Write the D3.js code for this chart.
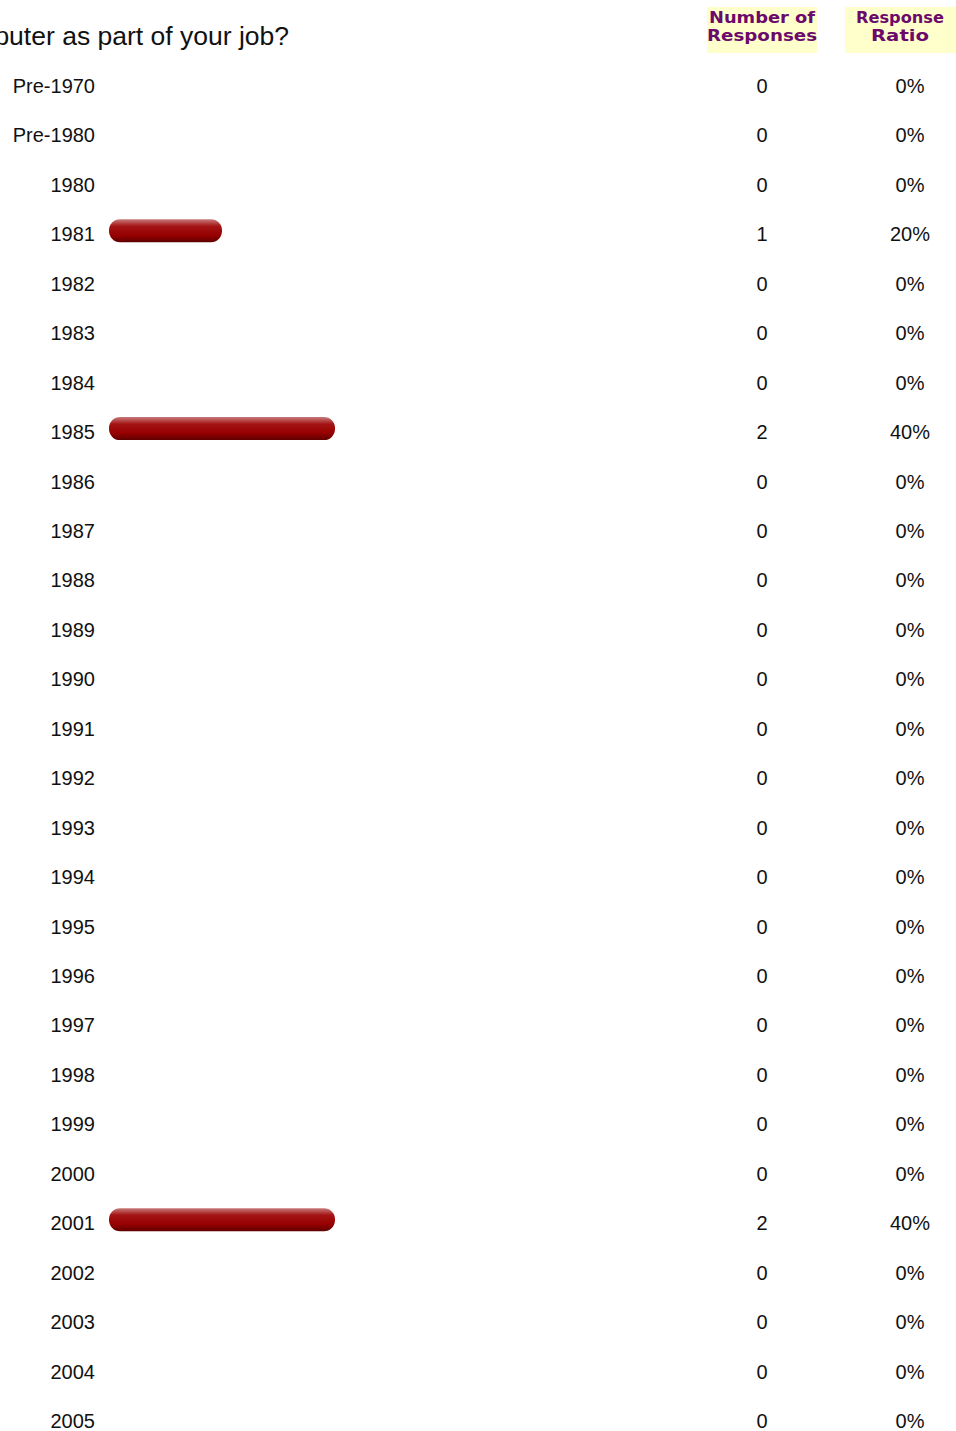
<!DOCTYPE html>
<html>
<head>
<meta charset="utf-8">
<script src="https://cdn.jsdelivr.net/npm/d3@7"></script>
<style>
  body { margin: 0; background: #fff; }
  svg { display: block; }
</style>
</head>
<body>
<div id="chart"></div>
<script>
const categories = ["Pre-1970", "Pre-1980", "1980", "1981", "1982", "1983", "1984", "1985",
  "1986", "1987", "1988", "1989", "1990", "1991", "1992", "1993", "1994", "1995", "1996",
  "1997", "1998", "1999", "2000", "2001", "2002", "2003", "2004", "2005"];
const counts = [0, 0, 0, 1, 0, 0, 0, 2, 0, 0, 0, 0, 0, 0, 0, 0, 0, 0, 0, 0, 0, 0, 0, 2, 0, 0, 0, 0];
const ratios = [0, 0, 0, 0.2, 0, 0, 0, 0.4, 0, 0, 0, 0, 0, 0, 0, 0, 0, 0, 0, 0, 0, 0, 0, 0.4, 0, 0, 0, 0];
const titleText = "computer as part of your job?";
const headers = [["Number of", "Responses"], ["Response", "Ratio"]];

function drawChart() {
  const width = 956, height = 1431;

  const svg = d3.select("#chart")
    .append("svg")
    .attr("width", width)
    .attr("height", height);

  const defs = svg.append("defs");
  const grad = defs.append("linearGradient")
    .attr("id", "barGrad")
    .attr("x1", 0).attr("y1", 0).attr("x2", 0).attr("y2", 1);
  grad.append("stop").attr("offset", "0%").attr("stop-color", "#c77a7a");
  grad.append("stop").attr("offset", "30%").attr("stop-color", "#a41414");
  grad.append("stop").attr("offset", "70%").attr("stop-color", "#960000");
  grad.append("stop").attr("offset", "100%").attr("stop-color", "#5e0000");

  const y = d3.scalePoint()
    .domain(categories)
    .range([86, 1421]);

  const x = d3.scaleLinear()
    .domain([0, 1])
    .range([109, 674]);

  // question title, cut off on the left like the source page
  svg.append("text")
    .attr("x", 289)
    .attr("y", 45)
    .attr("text-anchor", "end")
    .style("font-family", "'Liberation Sans', Arial, sans-serif")
    .style("font-size", "26.5px")
    .attr("fill", "#111")
    .text(titleText);

  // column headers
  const headX = [762, 900];
  const boxes = [[707, 110], [845, 115]];
  headers.forEach((lines, i) => {
    svg.append("rect")
      .attr("x", boxes[i][0])
      .attr("y", 7)
      .attr("width", boxes[i][1])
      .attr("height", 46)
      .attr("fill", "#ffffcc");
    lines.forEach((t, j) => {
      svg.append("text")
        .attr("x", headX[i])
        .attr("y", 23 + j * 18)
        .attr("text-anchor", "middle")
        .style("font-family", "'DejaVu Sans', sans-serif")
        .style("font-weight", "bold")
        .style("font-size", "16px")
        .attr("fill", "#6b0a6b")
        .attr("textLength", i === 0 ? (j === 0 ? 106 : 110) : (j === 0 ? 88 : 58))
        .attr("lengthAdjust", "spacingAndGlyphs")
        .text(t);
    });
  });

  const rows = categories.map((c, i) => ({ cat: c, count: counts[i], ratio: ratios[i] }));

  const txtStyle = sel => sel
    .style("font-family", "'Liberation Sans', Arial, sans-serif")
    .style("font-size", "20px")
    .attr("fill", "#111");

  svg.append("g")
    .selectAll("text")
    .data(rows)
    .join("text")
    .attr("x", 95)
    .attr("y", d => y(d.cat) + 7)
    .attr("text-anchor", "end")
    .call(txtStyle)
    .text(d => d.cat);

  svg.append("g")
    .selectAll("rect")
    .data(rows.filter(d => d.ratio > 0))
    .join("rect")
    .attr("x", x(0))
    .attr("y", d => y(d.cat) - 15)
    .attr("width", d => x(d.ratio) - x(0))
    .attr("height", 23)
    .attr("rx", 11)
    .attr("fill", "url(#barGrad)");

  svg.append("g")
    .selectAll("text")
    .data(rows)
    .join("text")
    .attr("x", 762)
    .attr("y", d => y(d.cat) + 7)
    .attr("text-anchor", "middle")
    .call(txtStyle)
    .text(d => d.count);

  svg.append("g")
    .selectAll("text")
    .data(rows)
    .join("text")
    .attr("x", 910)
    .attr("y", d => y(d.cat) + 7)
    .attr("text-anchor", "middle")
    .call(txtStyle)
    .text(d => d3.format(".0%")(d.ratio));
}

drawChart();
</script>
</body>
</html>
